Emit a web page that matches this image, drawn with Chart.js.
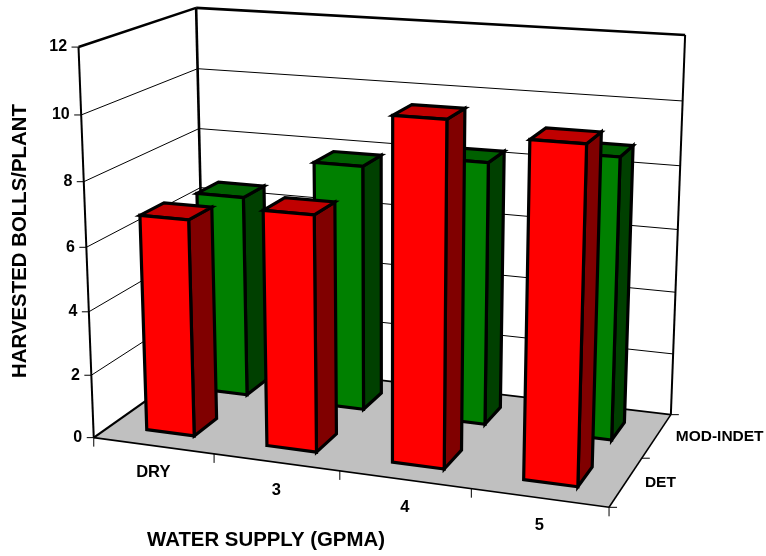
<!DOCTYPE html>
<html><head><meta charset="utf-8">
<style>html,body{margin:0;padding:0;background:#fff}canvas{display:block}</style>
<script src="https://cdn.jsdelivr.net/npm/chart.js@4"></script>
</head><body><canvas id="c" width="766" height="556"></canvas>
<script>
const categories = ["DRY", "3", "4", "5"];
const depthLabels = ["DET", "MOD-INDET"];
const detValues = [6.8, 7.3, 10.4, 10.0];
const modIndetValues = [6.55, 7.87, 8.3, 8.78];
const yTicks = [0, 2, 4, 6, 8, 10, 12];

// Box corners on the page [u, depth, height] -> [px, px]
const CORNERS = [
  [[0,0,0],[94.3,438]], [[1,0,0],[609,507]], [[1,1,0],[671,415]], [[0,1,0],[204,359]],
  [[0,0,1],[78,47]], [[0,1,1],[196.7,8]], [[1,1,1],[685,35]]
];
function solveProjection(corr){
  const A=[],b=[];
  corr.forEach(([[x,y,z],[px,py]])=>{
    A.push([x,y,z,1,0,0,0,0,-px*x,-px*y,-px*z]);b.push(px);
    A.push([0,0,0,0,x,y,z,1,-py*x,-py*y,-py*z]);b.push(py);
  });
  const n=11,M=[];
  for(let i=0;i<n;i++){M.push([]);for(let j=0;j<=n;j++){let s=0;
    for(let k=0;k<A.length;k++)s+=A[k][i]*(j<n?A[k][j]:b[k]);M[i].push(s);}}
  for(let i=0;i<n;i++){let p=i;for(let r=i+1;r<n;r++)if(Math.abs(M[r][i])>Math.abs(M[p][i]))p=r;
    [M[i],M[p]]=[M[p],M[i]];
    for(let r=0;r<n;r++){if(r===i)continue;const f=M[r][i]/M[i][i];for(let c=i;c<=n;c++)M[r][c]-=f*M[i][c];}}
  return M.map((r,i)=>r[n]/r[i]);
}
const P=solveProjection(CORNERS);
function proj(u,w,v){const d=P[8]*u+P[9]*w+P[10]*v+1;
  return [(P[0]*u+P[1]*w+P[2]*v+P[3])/d,(P[4]*u+P[5]*w+P[6]*v+P[7])/d];}
function poly(ctx,pts,fill,lw){ctx.beginPath();pts.forEach((p,i)=>i?ctx.lineTo(p[0],p[1]):ctx.moveTo(p[0],p[1]));ctx.closePath();
  if(fill){ctx.fillStyle=fill;ctx.fill();}
  if(lw){ctx.lineWidth=lw;ctx.strokeStyle='#000';ctx.lineJoin='miter';ctx.stroke();}}
function seg(ctx,a,b,lw){ctx.beginPath();ctx.moveTo(a[0],a[1]);ctx.lineTo(b[0],b[1]);ctx.lineWidth=lw;ctx.strokeStyle='#000';ctx.lineCap='butt';ctx.stroke();}
const DEPTH_FILL=0.41;

class Bar3D extends Chart.BarElement{
  draw(ctx){
    const {x,y,base,width}=this.getProps(['x','y','base','width']);
    const c=this.owner3d, a=c.chartArea, ds=c.data.datasets[this.dsIndex3d], dz=c.scales.depth;
    const u0=(x-width/2-a.left)/a.width,u1=(x+width/2-a.left)/a.width;
    const top=(a.bottom-y)/a.height,bot=(a.bottom-base)/a.height;
    const wc=(dz.getPixelForValue(depthLabels.indexOf(ds.label))-a.left)/a.width;
    const hw=DEPTH_FILL/depthLabels.length/2,w0=wc-hw,w1=wc+hw;
    ctx.save();
    poly(ctx,[proj(u1,w0,bot),proj(u1,w1,bot),proj(u1,w1,top),proj(u1,w0,top)],ds.sideColor,3.2);
    poly(ctx,[proj(u0,w0,top),proj(u1,w0,top),proj(u1,w1,top),proj(u0,w1,top)],ds.topColor,3.2);
    poly(ctx,[proj(u0,w0,bot),proj(u1,w0,bot),proj(u1,w0,top),proj(u0,w0,top)],ds.backgroundColor,3.2);
    ctx.restore();
  }
}
Bar3D.id='bar3d';Bar3D.defaults=Chart.BarElement.defaults;Bar3D.defaultRoutes=Chart.BarElement.defaultRoutes;
class Bar3DController extends Chart.BarController{
  draw(){
    this._cachedMeta.data.forEach(el=>{el.owner3d=this.chart;el.dsIndex3d=this.index;});
    super.draw();
  }
}
Bar3DController.id='bar3d';
Bar3DController.defaults={...Chart.BarController.defaults,dataElementType:'bar3d'};
Bar3DController.overrides=Chart.BarController.overrides;
Chart.register(Bar3D,Bar3DController);

const frame={id:'frame',
  beforeDatasetsDraw(c){
    const ctx=c.ctx,ys=c.scales.y,a=c.chartArea;
    const vOf=t=>(a.bottom-ys.getPixelForValue(t))/a.height;
    ctx.save();
    ctx.fillStyle='#fff';ctx.fillRect(0,0,c.width,c.height);
    poly(ctx,[proj(0,0,0),proj(1,0,0),proj(1,1,0),proj(0,1,0)],'#c0c0c0');
    yTicks.slice(1,-1).forEach(t=>{const v=vOf(t);
      seg(ctx,proj(0,0,v),proj(0,1,v),1);seg(ctx,proj(0,1,v),proj(1,1,v),1);});
    seg(ctx,proj(0,0,0),proj(0,1,0),2.2);
    seg(ctx,proj(0,1,0),proj(1,1,0),1.6);
    seg(ctx,proj(0,0,0),proj(1,0,0),1.6);
    seg(ctx,proj(1,0,0),proj(1,1,0),1.6);
    seg(ctx,proj(0,0,0),proj(0,0,1),2);
    seg(ctx,proj(0,1,0),proj(0,1,1),2.6);
    seg(ctx,proj(1,1,0),proj(1,1,1),2);
    seg(ctx,proj(0,0,1),proj(0,1,1),2.6);
    seg(ctx,proj(0,1,1),proj(1,1,1),2.6);
    // y ticks and labels
    ctx.textBaseline='middle';
    ctx.font='bold 16px "Liberation Sans"';ctx.textAlign='right';
    yTicks.forEach(t=>{const p=proj(0,0,vOf(t));seg(ctx,[p[0]-7,p[1]],p,1);
      ctx.fillStyle='#000';ctx.fillText(String(t),p[0]-11.5,p[1]);});
    // x ticks and labels
    const xs=c.scales.x,n=categories.length;
    for(let i=0;i<=n;i++){const p=proj(i/n,0,0);seg(ctx,p,[p[0],p[1]+9],1);}
    ctx.font='bold 16.5px "Liberation Sans"';ctx.textAlign='center';
    categories.forEach((l,i)=>{const u=(xs.getPixelForValue(i)-a.left)/a.width,p=proj(u,0,0);
      ctx.fillStyle='#000';ctx.fillText(l,p[0],p[1]+(i?28:27));});
    // depth ticks and labels
    const m=depthLabels.length;
    for(let i=0;i<=m;i++){const p=proj(1,i/m,0);seg(ctx,p,[p[0]+8,p[1]],1);}
    ctx.font='bold 15.5px "Liberation Sans"';
    ctx.textAlign='left';const dz=c.scales.depth;
    depthLabels.forEach((l,i)=>{const w=(dz.getPixelForValue(i)-a.left)/a.width,p=proj(1,w,0);
      ctx.fillStyle='#000';ctx.fillText(l,p[0]+19,p[1]+1);});
    // titles
    ctx.font='bold 20.4px "Liberation Sans"';ctx.textAlign='center';ctx.fillStyle='#000';
    ctx.fillText('WATER SUPPLY (GPMA)',266,540);
    ctx.translate(20,241);ctx.rotate(-Math.PI/2);ctx.fillText('HARVESTED BOLLS/PLANT',0,0);
    ctx.restore();
  }};

new Chart(document.getElementById('c'),{
  type:'bar3d',
  data:{labels:categories,datasets:[
    {label:depthLabels[0],data:detValues,backgroundColor:'#ff0000',topColor:'#c00000',sideColor:'#800000'},
    {label:depthLabels[1],data:modIndetValues,backgroundColor:'#008000',topColor:'#006000',sideColor:'#004000'}
  ]},
  options:{responsive:false,animation:false,devicePixelRatio:1,
    layout:{padding:0},
    datasets:{bar3d:{grouped:false,barPercentage:0.40,categoryPercentage:1}},
    plugins:{legend:{display:false},tooltip:{enabled:false},title:{display:false}},
    scales:{
      x:{type:'category',display:false,offset:true},
      depth:{type:'category',axis:'x',position:'bottom',labels:depthLabels,display:false,offset:true},
      y:{type:'linear',display:false,min:0,max:12}
    }},
  plugins:[frame]
});
</script></body></html>
